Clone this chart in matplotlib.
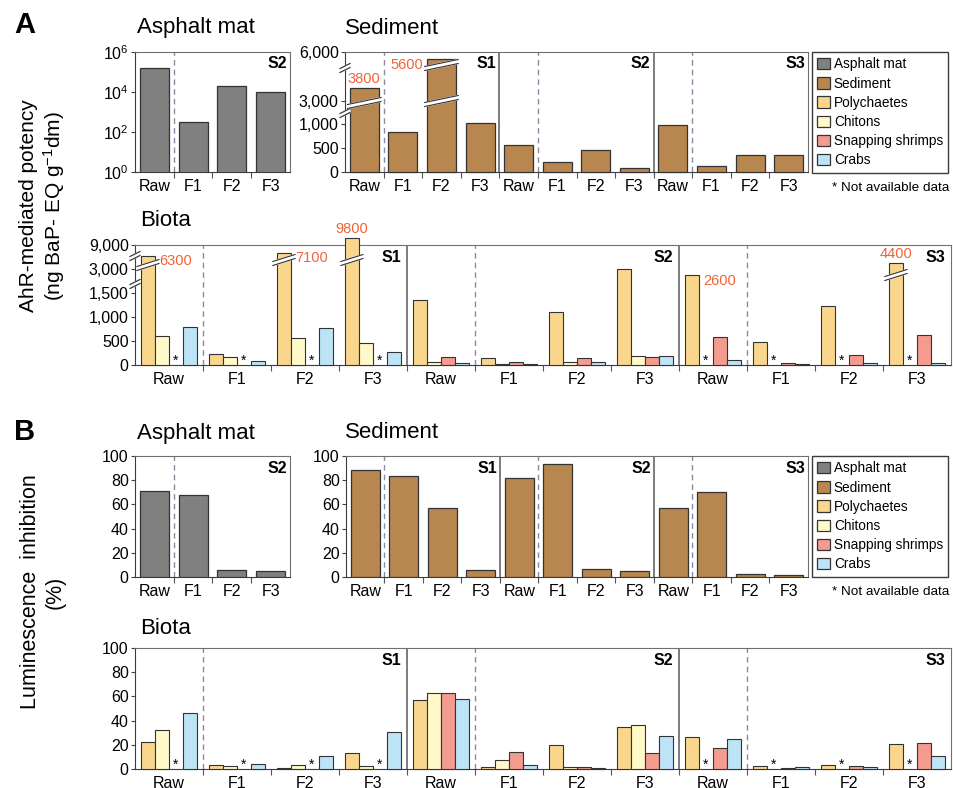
import numpy as np
import matplotlib
matplotlib.use("Agg")
import matplotlib.pyplot as plt
from matplotlib.patches import Patch
from matplotlib.ticker import NullLocator
from matplotlib.transforms import blended_transform_factory

plt.rcParams['font.family'] = ['Liberation Sans', 'DejaVu Sans']
plt.rcParams['mathtext.fontset'] = 'custom'
plt.rcParams['mathtext.rm'] = 'Liberation Sans'
plt.rcParams['mathtext.it'] = 'Liberation Sans:italic'
plt.rcParams['mathtext.bf'] = 'Liberation Sans:bold'
plt.rcParams['mathtext.default'] = 'rm'

fractions = ['Raw', 'F1', 'F2', 'F3']
sites = ['S1', 'S2', 'S3']
legend_labels = ['Asphalt mat', 'Sediment', 'Polychaetes', 'Chitons',
                 'Snapping shrimps', 'Crabs']
nan = np.nan

# A: AhR-mediated potency, order S1 Raw..F3, S2 Raw..F3, S3 Raw..F3
asphalt_ahr = [1.6e5, 330, 2.1e4, 1.0e4]
sediment_ahr = [3800, 830, 5600, 1120, 556, 208, 451, 76, 972, 118, 347, 361]
poly_ahr = [6300, 222, 7100, 9800, 1350, 146, 1100, 3100, 2600, 478, 1234, 4400]
chiton_ahr = [600, 160, 555, 464, 56, 27, 56, 194, nan, nan, nan, nan]
shrimp_ahr = [nan, nan, nan, nan, 173, 69, 139, 166, 582, 48, 208, 631]
crab_ahr = [790, 77, 765, 264, 35, 15, 56, 194, 97, 27, 48, 35]

# B: luminescence inhibition (%)
asphalt_lum = [70.8, 68.1, 5.5, 5.3]
sediment_lum = [88.2, 83.8, 57.4, 6.1, 81.6, 93.4, 6.9, 5.3, 57.4, 70.6, 2.8, 2.0]
poly_lum = [22.6, 3.6, 1.1, 13.0, 57.4, 1.9, 19.9, 34.5, 26.8, 2.5, 3.6, 20.7]
chiton_lum = [32.3, 2.8, 3.6, 2.5, 62.7, 7.5, 1.7, 36.7, nan, nan, nan, nan]
shrimp_lum = [nan, nan, nan, nan, 62.7, 13.8, 1.4, 13.0, 17.4, 0.8, 2.2, 21.8]
crab_lum = [46.1, 4.4, 10.8, 30.7, 57.7, 3.6, 0.6, 27.3, 24.9, 1.7, 1.9, 10.8]

# broken bars: index -> labelled value placement, and break heights (px above 0)
sediment_labels = [(0, 'above'), (2, 'left')]
sediment_breaks = {0: [67], 2: [69, 105]}
poly_labels = [(0, 'right'), (2, 'right'), (3, 'above'), (8, 'right'), (11, 'above')]
poly_breaks = {0: [98], 2: [103], 3: [103], 11: [88]}

colors = ['#808080', '#b7874f', '#f9d68c', '#fff8c8', '#f49b8f', '#bde3f6']
edge = '#333333'
red = '#f0643c'

FW, FH = 954, 788
fig = plt.figure(figsize=(FW / 100, FH / 100), dpi=100)


def add_axes_px(left, top, right, bottom):
    return fig.add_axes([left / FW, 1 - bottom / FH, (right - left) / FW,
                         (bottom - top) / FH])


def piecewise(vals, pxs):
    return (lambda y: np.interp(y, vals, pxs),
            lambda y: np.interp(y, pxs, vals))


def style(ax, n, site_labels):
    ax.set_xlim(-0.5, n - 0.5)
    ax.set_xticks(np.arange(0.5, n - 0.5, 1))
    ax.set_xticklabels([])
    ax.set_xticks(np.arange(n), minor=True)
    ax.set_xticklabels(fractions * (n // 4), minor=True)
    ax.tick_params(axis='x', which='major', length=4, color='#555555')
    ax.tick_params(axis='x', which='minor', length=0, pad=5, labelsize=11.5)
    ax.tick_params(axis='y', length=3, labelsize=11.5, pad=1.5, color='#444444')
    for side in ['left', 'bottom']:
        ax.spines[side].set_color('#3c3c3c')
    for side in ['top', 'right']:
        ax.spines[side].set_color('#707070')
    trans = blended_transform_factory(ax.transData, ax.transAxes)
    for s in range(n // 4):
        ax.axvline(4 * s + 0.5, color='#8a8aa0', lw=1, ls=(0, (4, 3)), zorder=1)
        if s > 0:
            ax.axvline(4 * s - 0.5, color='#666666', lw=1.2, zorder=1)
        ax.text(4 * s + 3.42, 0.9, site_labels[s], transform=trans, ha='right',
                va='center', fontsize=11.5, fontweight='bold')


def spine_break(ax, yfrac):
    pos = ax.get_position()
    dx = 5 / (pos.width * FW)
    s = 2.5 / (pos.height * FH)
    g = 4 / (pos.height * FH)
    xs = [-dx, dx, dx, -dx]
    ys = [yfrac - s, yfrac + s, yfrac + s + g, yfrac - s + g]
    ax.fill(xs, ys, color='white', transform=ax.transAxes, zorder=10, clip_on=False)
    for off in [0, g]:
        ax.plot([-dx, dx], [yfrac - s + off, yfrac + s + off], color='#3c3c3c',
                lw=0.9, transform=ax.transAxes, zorder=11, clip_on=False)


def bar_break(ax, xc, w, ypx):
    pos = ax.get_position()
    trans = blended_transform_factory(ax.transData, ax.transAxes)
    h = pos.height * FH
    dx = w / 2 + 0.06
    yf = ypx / h
    s = 3.5 / h
    g = 4 / h
    xs = [xc - dx, xc + dx, xc + dx, xc - dx]
    ys = [yf - s, yf + s, yf + s + g, yf - s + g]
    ax.fill(xs, ys, color='white', transform=trans, zorder=6, clip_on=False)
    for off in [0, g]:
        ax.plot([xc - dx, xc + dx], [yf - s + off, yf + s + off], color=edge,
                lw=0.8, transform=trans, zorder=7, clip_on=False)


def value_label(ax, x, w, v, where):
    kw = dict(textcoords='offset points', color=red, fontsize=10.5, zorder=8,
              annotation_clip=False)
    if where == 'above':
        ax.annotate(f'{v:.0f}', (x, v), xytext=(0, 1.5), ha='center',
                    va='bottom', **kw)
    elif where == 'right':
        ax.annotate(f'{v:.0f}', (x + w / 2, v), xytext=(3, -4), ha='left',
                    va='center', **kw)
    else:
        ax.annotate(f'{v:.0f}', (x - w / 2, v), xytext=(-3, -4.5), ha='right',
                    va='center', **kw)


def single_bars(ax, vals, color, w=0.75, clip=True):
    x = np.arange(len(vals))
    ax.bar(x, vals, width=w, color=color, edgecolor=edge, lw=0.9, zorder=3,
           clip_on=clip)


def biota_bars(ax, series):
    w = 0.206
    offsets = [-0.31, -0.103, 0.103, 0.31]
    x = np.arange(12)
    trans = blended_transform_factory(ax.transData, ax.transAxes)
    for k, vals in enumerate(series):
        vals = np.asarray(vals, dtype=float)
        xs = x + offsets[k]
        ok = ~np.isnan(vals)
        ax.bar(xs[ok], vals[ok], width=w, color=colors[k + 2], edgecolor=edge,
               lw=0.8, zorder=3, clip_on=False)
        for xi in xs[~ok]:
            ax.text(xi, 0.035, '*', transform=trans, ha='center', va='center',
                    fontsize=10)
    return x + offsets[0], w


def legend(top_px):
    handles = [Patch(facecolor=c, edgecolor=edge, lw=0.9) for c in colors]
    fig.legend(handles, legend_labels, loc='upper left',
               bbox_to_anchor=(812 / FW, 1 - top_px / FH, 136 / FW, 0),
               mode='expand', fontsize=9.8, frameon=True, fancybox=False,
               edgecolor='#3c3c3c', framealpha=1, handlelength=0.9,
               handleheight=0.9, handletextpad=0.3, labelspacing=0.38,
               borderpad=0.4, borderaxespad=0)
    fig.text(949 / FW, 1 - (top_px + 136) / FH, '* Not available data',
             ha='right', va='center', fontsize=9.7)


# ---------------- Panel A ----------------
ax = add_axes_px(135, 52, 290, 172)
single_bars(ax, asphalt_ahr, colors[0])
ax.set_yscale('log')
ax.set_ylim(1, 1e6)
ax.set_yticks([1, 1e2, 1e4, 1e6])
ax.set_yticklabels(['$10^0$', '$10^2$', '$10^4$', '$10^6$'])
ax.yaxis.set_minor_locator(NullLocator())
style(ax, 4, ['S2'])

ax = add_axes_px(345, 52, 808, 172)
ax.set_yscale('function', functions=piecewise([-1000, 0, 1000, 3000, 6000, 20000],
                                              [-48, 0, 48, 71, 120, 349]))
single_bars(ax, sediment_ahr, colors[1], clip=False)
ax.set_ylim(0, 6000)
ax.set_yticks([0, 500, 1000, 3000, 6000])
ax.set_yticklabels(['0', '500', '1,000', '3,000', '6,000'])
style(ax, 12, sites)
for i, where in sediment_labels:
    value_label(ax, i, 0.75, sediment_ahr[i], where)
for i, ys in sediment_breaks.items():
    for y in ys:
        bar_break(ax, i, 0.75, y)
spine_break(ax, 57 / 120)
spine_break(ax, 102 / 120)

ax = add_axes_px(135, 245, 951, 365)
ax.set_yscale('function', functions=piecewise([-1000, 0, 1500, 3000, 9000, 20000],
                                              [-48, 0, 72, 96, 120, 216]))
px, pw = biota_bars(ax, [poly_ahr, chiton_ahr, shrimp_ahr, crab_ahr])
ax.set_ylim(0, 9000)
ax.set_yticks([0, 500, 1000, 1500, 3000, 9000])
ax.set_yticklabels(['0', '500', '1,000', '1,500', '3,000', '9,000'])
style(ax, 12, sites)
for i, where in poly_labels:
    value_label(ax, px[i], pw, poly_ahr[i], where)
for i, ys in poly_breaks.items():
    for y in ys:
        bar_break(ax, px[i], pw, y)
spine_break(ax, 79 / 120)
spine_break(ax, 107 / 120)

legend(52)

# ---------------- Panel B ----------------
ax = add_axes_px(135, 456, 290, 577)
single_bars(ax, asphalt_lum, colors[0])
ax.set_ylim(0, 100)
ax.set_yticks(range(0, 101, 20))
style(ax, 4, ['S2'])

ax = add_axes_px(346, 456, 808, 577)
single_bars(ax, sediment_lum, colors[1])
ax.set_ylim(0, 100)
ax.set_yticks(range(0, 101, 20))
style(ax, 12, sites)

ax = add_axes_px(135, 648, 951, 769)
biota_bars(ax, [poly_lum, chiton_lum, shrimp_lum, crab_lum])
ax.set_ylim(0, 100)
ax.set_yticks(range(0, 101, 20))
style(ax, 12, sites)

legend(456)

# ---------------- titles and labels ----------------
for txt, x, y in [('Asphalt mat', 137, 28), ('Sediment', 345, 28), ('Biota', 140, 221),
                  ('Asphalt mat', 137, 433), ('Sediment', 345, 433), ('Biota', 140, 628)]:
    fig.text(x / FW, 1 - y / FH, txt, fontsize=16, ha='left', va='center')

fig.text(25 / FW, 1 - 25 / FH, 'A', fontsize=21, fontweight='bold',
         ha='center', va='center')
fig.text(25 / FW, 1 - 432 / FH, 'B', fontsize=21, fontweight='bold',
         ha='center', va='center')

fig.text(43 / FW, 1 - 206 / FH, 'AhR-mediated potency\n(ng BaP- EQ g$^{-1}$dm)',
         rotation=90, ha='center', va='center', fontsize=15, linespacing=1.2)
fig.text(43 / FW, 1 - 592 / FH, 'Luminescence  inhibition\n(%)',
         rotation=90, ha='center', va='center', fontsize=15.5, linespacing=1.2)

fig.savefig('out.png', dpi=100)
